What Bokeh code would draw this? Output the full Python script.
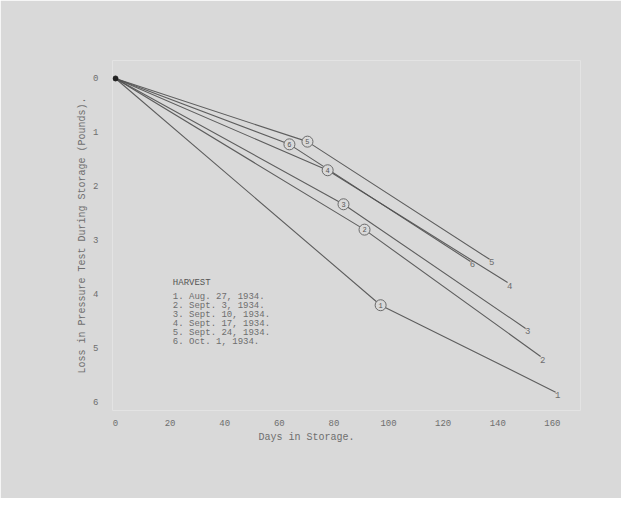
from bokeh.plotting import figure
from bokeh.models import Range1d, FixedTicker, Title
from bokeh.core.properties import value
from bokeh.embed import file_html
from bokeh.resources import INLINE

# ---- data ----
series = ["1", "2", "3", "4", "5", "6"]
harvest_dates = ["Aug. 27, 1934.", "Sept. 3, 1934.", "Sept. 10, 1934.",
                 "Sept. 17, 1934.", "Sept. 24, 1934.", "Oct. 1, 1934."]
days_mid = [97.1, 91.2, 83.5, 77.7, 70.3, 63.7]
loss_mid = [4.20, 2.80, 2.33, 1.70, 1.17, 1.22]
days_end = [161.2, 155.7, 150.2, 143.6, 137.0, 130.0]
loss_end = [5.81, 5.15, 4.63, 3.78, 3.35, 3.39]
x_ticks = [0, 20, 40, 60, 80, 100, 120, 140, 160]
y_ticks = [0, 1, 2, 3, 4, 5, 6]

PAPER = "#d9d9d9"
INK = "#505050"
TYPE = "#6e6e6e"
FONT_NAME = "Liberation Mono"
FONT = value(FONT_NAME)

W, H = 621, 498
p = figure(width=W, height=H, output_backend="svg", toolbar_location=None,
           x_range=Range1d(-1.1, 170.3), y_range=Range1d(6.15, -0.333),
           min_border_left=112, min_border_right=41, min_border_top=60,
           min_border_bottom=88)
p.background_fill_color = PAPER
p.border_fill_color = PAPER
p.outline_line_color = None
p.grid.visible = False

for ax in (p.xaxis, p.yaxis):
    ax.axis_line_color = None
    ax.major_tick_line_color = None
    ax.minor_tick_line_color = None
    ax.major_label_text_font = FONT_NAME
    ax.major_label_text_font_size = "9px"
    ax.major_label_text_color = TYPE
    ax.axis_label_text_font = FONT_NAME
    ax.axis_label_text_font_size = "10px"
    ax.axis_label_text_font_style = "normal"
    ax.axis_label_text_color = TYPE

p.xaxis.ticker = FixedTicker(ticks=x_ticks)
p.yaxis.ticker = FixedTicker(ticks=y_ticks)
p.xaxis.major_label_standoff = 3
p.yaxis.major_label_standoff = 8
p.yaxis.axis_label = "Loss in Pressure Test During Storage (Pounds)."
p.yaxis.axis_label_standoff = 2

# x-axis title, typed off-centre as in the original
p.add_layout(Title(text="Days in Storage.", align="left", offset=146,
                   standoff=2, text_font=FONT_NAME, text_font_size="10px",
                   text_font_style="normal", text_color=TYPE), "below")

# curves: origin -> circled point -> end
for i in range(len(series)):
    p.line([0, days_mid[i], days_end[i]], [0, loss_mid[i], loss_end[i]],
           line_color=INK, line_width=1.1, line_alpha=0.9)

p.scatter([0], [0], size=5, color="#222222")

p.scatter(days_mid, loss_mid, size=11, marker="circle", fill_color=PAPER,
          line_color="#6a6a6a", line_width=1)
p.text(days_mid, loss_mid, text=series, text_align="center",
       text_baseline="middle", text_font=FONT, text_font_size="7px",
       text_color="#555555")
p.text(days_end, loss_end, text=series, x_offset=2, y_offset=3,
       text_align="center", text_baseline="middle", text_font=FONT,
       text_font_size="9px", text_color=TYPE)

# legend block
legend_x = 21
p.text([legend_x], [3.78], text=["HARVEST"], text_align="left",
       text_baseline="middle", text_font=FONT, text_font_size="9px",
       text_color="#555555")
entry_y = [4.056 + 0.1667 * i for i in range(len(series))]
entries = [f"{s}. {d}" for s, d in zip(series, harvest_dates)]
p.text([legend_x] * len(entries), entry_y, text=entries, text_align="left",
       text_baseline="middle", text_font=FONT, text_font_size="9px",
       text_color=TYPE)

open("out.html", "w").write(file_html(p, INLINE))
